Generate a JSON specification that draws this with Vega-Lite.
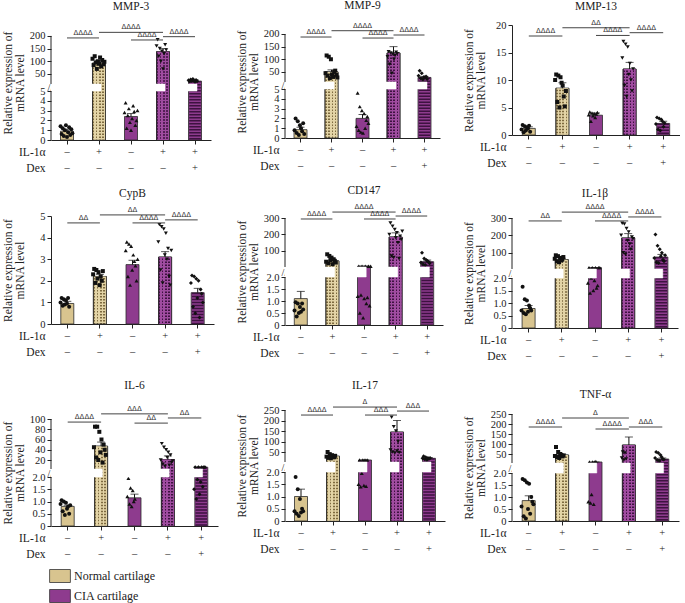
{
"$schema":"https://vega.github.io/schema/vega-lite/v6.json",
"background":"white",
"padding":{"left":2,"top":0,"right":0,"bottom":0},
"config":{
 "view":{"stroke":null},
 "font":"Liberation Serif",
 "style":{"guide-label":{"font":"Liberation Serif"},"guide-title":{"font":"Liberation Serif"},"group-title":{"font":"Liberation Serif"}},
 "axis":{"labelFont":"Liberation Serif","titleFont":"Liberation Serif","labelFontSize":10.5,"titleFontSize":11.5,"titleFontWeight":"normal","labelColor":"#222","titleColor":"#222","domainColor":"#222","tickColor":"#222","grid":false,"labelOverlap":false,"labelBound":false,"labelFlush":false},
 "title":{"font":"Liberation Serif","fontSize":11.5,"fontWeight":"normal","color":"#222","frame":"group","anchor":"middle"},
 "legend":{"labelFont":"Liberation Serif","labelFontSize":12,"labelColor":"#222"}
},
"spacing":18,
"resolve":{"scale":{"x":"independent","y":"independent","color":"independent"},"legend":{"color":"independent"}},
"hconcat":[
{"spacing":14,"resolve":{"scale":{"x":"independent","y":"independent","color":"independent"},"legend":{"color":"independent"}},"vconcat":[
{"width":160,"height":115,"title":{"text":"MMP-3","offset":11},
 "data":{"values":[
  {"g":"1","v":0.9,"e":1.1,"p":[1.4,0.6,1.2,0.4,1.0,1.5,0.3,0.8,1.3,0.5,1.1,0.7]},
  {"g":"2","v":93,"e":104,"p":[110,85,120,95,70,100,90,115,80,105,88,98]},
  {"g":"3","v":2.4,"e":2.7,"p":[2.8,3.8,1.2,2.5,3.2,1.8,1.0,2.2,3.5,2.9,1.5,2.0,3.0]},
  {"g":"4","v":138,"e":150,"p":[160,185,120,150,100,140,70,130,165,145]},
  {"g":"5","v":22,"e":26,"p":[25,20,28,22,30,24,18,26,21]}]},
 "encoding":{
  "x":{"field":"g","type":"nominal","scale":{"domain":["1","2","3","4","5"],"paddingInner":0,"paddingOuter":0},
   "axis":{"title":["IL-1α","Dex"],"titleAlign":"right","titleBaseline":"top","titleX":-6,"titleY":6,"titleLineHeight":16,"labelExpr":"datum.value=='5' ? ['+','+'] : (datum.value=='2' || datum.value=='4') ? ['+','–'] : ['–','–']","labelLineHeight":16,"labelPadding":2,"labelBaseline":"top","labelAngle":0,"tickSize":4}},
  "y":{"field":"v","type":"quantitative","scale":{"domain":[0,5,10.5,243],"range":[115,66,59,0],"nice":false,"zero":false},
   "axis":{"domain":false,"title":["Relative expression of","mRNA level"],"values":[0,1,2,3,4,5,7.75,50,100,150,200],"labelExpr":"datum.value==7.75 ? '//' : ''+datum.value","labelAlign":{"condition":{"test":"datum.value==7.75","value":"center"},"value":"right"},"labelPadding":{"condition":{"test":"datum.value==7.75","value":-3},"value":2},"tickOpacity":{"condition":{"test":"datum.value==7.75","value":0},"value":1},"tickSize":4,"minExtent":24,"maxExtent":24,"titlePadding":2,"titleLineHeight":12}}},
 "layer":[
  {"mark":{"type":"bar","width":13,"stroke":"#2b2b2b","strokeWidth":0.8},"encoding":{"fill":{"field":"g","type":"nominal","scale":{"domain":["1","2","3","4","5"],"range":["#d8c48f","#d8c48f","#8e3b8e","#8e3b8e","#8e3b8e"]},"legend":null}}},
  {"transform":[{"filter":"datum.g=='2'"}],"mark":{"type":"bar","width":13,"stroke":"#2b2b2b","strokeWidth":0.8,"fill":{"gradient":"linear","x1":0,"y1":0,"x2":1,"y2":0,"stops":[{"offset":0,"color":"#7d6a3f"},{"offset":0.125,"color":"#7d6a3f"},{"offset":0.125,"color":"#e3d4a6"},{"offset":0.25,"color":"#e3d4a6"},{"offset":0.25,"color":"#7d6a3f"},{"offset":0.375,"color":"#7d6a3f"},{"offset":0.375,"color":"#e3d4a6"},{"offset":0.5,"color":"#e3d4a6"},{"offset":0.5,"color":"#7d6a3f"},{"offset":0.625,"color":"#7d6a3f"},{"offset":0.625,"color":"#e3d4a6"},{"offset":0.75,"color":"#e3d4a6"},{"offset":0.75,"color":"#7d6a3f"},{"offset":0.875,"color":"#7d6a3f"},{"offset":0.875,"color":"#e3d4a6"},{"offset":1,"color":"#e3d4a6"}]}}},
  {"transform":[{"filter":"datum.g=='4'"}],"mark":{"type":"bar","width":13,"stroke":"#2b2b2b","strokeWidth":0.8,"fill":{"gradient":"linear","x1":0,"y1":0,"x2":1,"y2":0,"stops":[{"offset":0,"color":"#3d1240"},{"offset":0.125,"color":"#3d1240"},{"offset":0.125,"color":"#a04ca0"},{"offset":0.25,"color":"#a04ca0"},{"offset":0.25,"color":"#3d1240"},{"offset":0.375,"color":"#3d1240"},{"offset":0.375,"color":"#a04ca0"},{"offset":0.5,"color":"#a04ca0"},{"offset":0.5,"color":"#3d1240"},{"offset":0.625,"color":"#3d1240"},{"offset":0.625,"color":"#a04ca0"},{"offset":0.75,"color":"#a04ca0"},{"offset":0.75,"color":"#3d1240"},{"offset":0.875,"color":"#3d1240"},{"offset":0.875,"color":"#a04ca0"},{"offset":1,"color":"#a04ca0"}]}}},
  {"transform":[{"filter":"datum.g=='2' || datum.g=='4' || datum.g=='5'"}],"mark":{"type":"rule","strokeWidth":11.5,"strokeDash":[1.5,1.5],"strokeCap":"butt"},"encoding":{"y2":{"datum":0},"stroke":{"field":"g","type":"nominal","scale":{"domain":["2","4","5"],"range":["#e3d4a6","#a04ca0","#3d1240"]},"legend":null}}},
  {"mark":{"type":"rule","color":"#111","strokeWidth":1},"encoding":{"y2":{"field":"e"}}},
  {"mark":{"type":"tick","color":"#111","thickness":1,"size":8},"encoding":{"y":{"field":"e","type":"quantitative"}}},
  {"transform":[{"flatten":["p"],"as":["v"]},{"window":[{"op":"row_number","as":"k"}],"groupby":["g"]}],"mark":{"type":"point","filled":true,"size":16,"color":"#111","opacity":1},"encoding":{"shape":{"field":"g","type":"nominal","scale":{"domain":["1","2","3","4","5"],"range":["circle","square","triangle-up","triangle-down","diamond"]},"legend":null},"xOffset":{"field":"k","type":"nominal","scale":{"range":[9,23]}}}},
  {"data":{"values":[{"g":"1","v":5,"e":10.5},{"g":"2","v":5,"e":10.5},{"g":"3","v":5,"e":10.5},{"g":"4","v":5,"e":10.5},{"g":"5","v":5,"e":10.5}]},"mark":{"type":"rect","fill":"white","stroke":"white","strokeWidth":0.5},"encoding":{"y2":{"field":"e"}}},
  {"data":{"values":[{"v":0,"e":5},{"v":10.5,"e":200}]},"mark":{"type":"rule","color":"#222","strokeWidth":1},"encoding":{"x":{"datum":"1","type":"nominal","bandPosition":0},"y2":{"field":"e"}}},
  {"data":{"values":[{"a":"1","b":"2","v":192,"t":"ΔΔΔΔ","s":1},{"a":"2","b":"4","v":214,"t":"ΔΔΔΔ","s":2},{"a":"3","b":"4","v":184,"t":"ΔΔΔΔ","s":1},{"a":"4","b":"5","v":197,"t":"ΔΔΔΔ","s":1}]},
   "layer":[
    {"mark":{"type":"rule","color":"#444","strokeWidth":1},"encoding":{"x":{"field":"a","type":"nominal"},"x2":{"field":"b"}}},
    {"transform":[{"filter":"datum.s==1"}],"mark":{"type":"text","fontSize":7,"dy":-3,"baseline":"alphabetic","color":"#333","font":"DejaVu Sans"},"encoding":{"x":{"field":"a","type":"nominal","bandPosition":1},"text":{"field":"t"}}},
    {"transform":[{"filter":"datum.s==2"}],"mark":{"type":"text","fontSize":7,"dy":-3,"baseline":"alphabetic","color":"#333","font":"DejaVu Sans"},"encoding":{"x":{"field":"a","type":"nominal","bandPosition":1.5},"text":{"field":"t"}}}]}
 ]},
{"width":163,"height":108,"title":{"text":"CypB","offset":6},
 "data":{"values":[
  {"g":"1","v":0.95,"e":1.05,"p":[1.0,1.2,0.85,1.15,0.9,1.1,0.95,1.2,0.8]},
  {"g":"2","v":2.2,"e":2.3,"p":[2.3,2.55,1.9,2.5,2.1,2.4,1.8,2.2,2.0,2.45]},
  {"g":"3","v":2.75,"e":2.95,"p":[3.4,3.8,2.2,3.7,1.8,3.6,2.5,3.2,2.9,2.7,2.0,3.0]},
  {"g":"4","v":3.1,"e":3.35,"p":[3.8,4.6,2.5,4.5,1.9,4.4,3.2,4.2,3.0,3.5,2.2,1.8,3.4]},
  {"g":"5","v":1.45,"e":1.65,"p":[1.9,2.25,0.8,2.2,0.5,2.1,1.2,2.0,0.3,1.6,1.4,1.0]}]},
 "encoding":{
  "x":{"field":"g","type":"nominal","scale":{"domain":["1","2","3","4","5"],"paddingInner":0,"paddingOuter":0},
   "axis":{"title":["IL-1α","Dex"],"titleAlign":"right","titleBaseline":"top","titleX":-6,"titleY":6,"titleLineHeight":16,"labelExpr":"datum.value=='5' ? ['+','+'] : (datum.value=='2' || datum.value=='4') ? ['+','–'] : ['–','–']","labelLineHeight":16,"labelPadding":2,"labelBaseline":"top","labelAngle":0,"tickSize":4}},
  "y":{"field":"v","type":"quantitative","scale":{"domain":[0,5],"range":[108,0],"nice":false,"zero":false},
   "axis":{"title":["Relative expression of","mRNA level"],"values":[0,1,2,3,4,5],"labelExpr":"''+datum.value","tickSize":4,"minExtent":24,"maxExtent":24,"titlePadding":2,"titleLineHeight":12}}},
 "layer":[
  {"mark":{"type":"bar","width":13,"stroke":"#2b2b2b","strokeWidth":0.8},"encoding":{"fill":{"field":"g","type":"nominal","scale":{"domain":["1","2","3","4","5"],"range":["#d8c48f","#d8c48f","#8e3b8e","#8e3b8e","#8e3b8e"]},"legend":null}}},
  {"transform":[{"filter":"datum.g=='2'"}],"mark":{"type":"bar","width":13,"stroke":"#2b2b2b","strokeWidth":0.8,"fill":{"gradient":"linear","x1":0,"y1":0,"x2":1,"y2":0,"stops":[{"offset":0,"color":"#7d6a3f"},{"offset":0.125,"color":"#7d6a3f"},{"offset":0.125,"color":"#e3d4a6"},{"offset":0.25,"color":"#e3d4a6"},{"offset":0.25,"color":"#7d6a3f"},{"offset":0.375,"color":"#7d6a3f"},{"offset":0.375,"color":"#e3d4a6"},{"offset":0.5,"color":"#e3d4a6"},{"offset":0.5,"color":"#7d6a3f"},{"offset":0.625,"color":"#7d6a3f"},{"offset":0.625,"color":"#e3d4a6"},{"offset":0.75,"color":"#e3d4a6"},{"offset":0.75,"color":"#7d6a3f"},{"offset":0.875,"color":"#7d6a3f"},{"offset":0.875,"color":"#e3d4a6"},{"offset":1,"color":"#e3d4a6"}]}}},
  {"transform":[{"filter":"datum.g=='4'"}],"mark":{"type":"bar","width":13,"stroke":"#2b2b2b","strokeWidth":0.8,"fill":{"gradient":"linear","x1":0,"y1":0,"x2":1,"y2":0,"stops":[{"offset":0,"color":"#3d1240"},{"offset":0.125,"color":"#3d1240"},{"offset":0.125,"color":"#a04ca0"},{"offset":0.25,"color":"#a04ca0"},{"offset":0.25,"color":"#3d1240"},{"offset":0.375,"color":"#3d1240"},{"offset":0.375,"color":"#a04ca0"},{"offset":0.5,"color":"#a04ca0"},{"offset":0.5,"color":"#3d1240"},{"offset":0.625,"color":"#3d1240"},{"offset":0.625,"color":"#a04ca0"},{"offset":0.75,"color":"#a04ca0"},{"offset":0.75,"color":"#3d1240"},{"offset":0.875,"color":"#3d1240"},{"offset":0.875,"color":"#a04ca0"},{"offset":1,"color":"#a04ca0"}]}}},
  {"transform":[{"filter":"datum.g=='2' || datum.g=='4' || datum.g=='5'"}],"mark":{"type":"rule","strokeWidth":11.5,"strokeDash":[1.5,1.5],"strokeCap":"butt"},"encoding":{"y2":{"datum":0},"stroke":{"field":"g","type":"nominal","scale":{"domain":["2","4","5"],"range":["#e3d4a6","#a04ca0","#3d1240"]},"legend":null}}},
  {"mark":{"type":"rule","color":"#111","strokeWidth":1},"encoding":{"y2":{"field":"e"}}},
  {"mark":{"type":"tick","color":"#111","thickness":1,"size":8},"encoding":{"y":{"field":"e","type":"quantitative"}}},
  {"transform":[{"flatten":["p"],"as":["v"]},{"window":[{"op":"row_number","as":"k"}],"groupby":["g"]}],"mark":{"type":"point","filled":true,"size":16,"color":"#111","opacity":1},"encoding":{"shape":{"field":"g","type":"nominal","scale":{"domain":["1","2","3","4","5"],"range":["circle","square","triangle-up","triangle-down","diamond"]},"legend":null},"xOffset":{"field":"k","type":"nominal","scale":{"range":[9,23]}}}},
  {"data":{"values":[{"g":"1","v":0}]},"mark":{"type":"text","text":".","dy":37,"opacity":0,"fontSize":10}},
  {"data":{"values":[{"a":"1","b":"2","v":4.68,"t":"ΔΔ","s":1},{"a":"2","b":"4","v":5.05,"t":"ΔΔ","s":2},{"a":"3","b":"4","v":4.68,"t":"ΔΔΔΔ","s":1},{"a":"4","b":"5","v":4.82,"t":"ΔΔΔΔ","s":1}]},
   "layer":[
    {"mark":{"type":"rule","color":"#444","strokeWidth":1},"encoding":{"x":{"field":"a","type":"nominal"},"x2":{"field":"b"}}},
    {"transform":[{"filter":"datum.s==1"}],"mark":{"type":"text","fontSize":7,"dy":-3,"baseline":"alphabetic","color":"#333","font":"DejaVu Sans"},"encoding":{"x":{"field":"a","type":"nominal","bandPosition":1},"text":{"field":"t"}}},
    {"transform":[{"filter":"datum.s==2"}],"mark":{"type":"text","fontSize":7,"dy":-3,"baseline":"alphabetic","color":"#333","font":"DejaVu Sans"},"encoding":{"x":{"field":"a","type":"nominal","bandPosition":1.5},"text":{"field":"t"}}}]}
 ]},
{"width":167,"height":107,"title":{"text":"IL-6","offset":13},
 "data":{"values":[
  {"g":"1","v":0.8,"e":0.85,"p":[0.9,1.05,0.6,1.0,0.45,0.95,0.7,0.8,0.5,0.85]},
  {"g":"2","v":47,"e":55,"p":[45,85,25,85,20,75,35,60,15,50,40,30]},
  {"g":"3","v":1.15,"e":1.3,"p":[1.2,1.95,0.9,1.55,0.8,1.45,1.0,1.1]},
  {"g":"4","v":21,"e":28,"p":[20,52,12,45,8,40,25,35,10,30,15,18]},
  {"g":"5","v":6,"e":6,"p":[1.5,6,1.1,1.9,6,1.3,1.8,6,1.6,6,6]}]},
 "encoding":{
  "x":{"field":"g","type":"nominal","scale":{"domain":["1","2","3","4","5"],"paddingInner":0,"paddingOuter":0},
   "axis":{"title":["IL-1α","Dex"],"titleAlign":"right","titleBaseline":"top","titleX":-6,"titleY":6,"titleLineHeight":16,"labelExpr":"datum.value=='5' ? ['+','+'] : (datum.value=='2' || datum.value=='4') ? ['+','–'] : ['–','–']","labelLineHeight":16,"labelPadding":2,"labelBaseline":"top","labelAngle":0,"tickSize":4}},
  "y":{"field":"v","type":"quantitative","scale":{"domain":[0,2,2.5,100],"range":[107,58,50,0],"nice":false,"zero":false},
   "axis":{"domain":false,"title":["Relative expression of","mRNA level"],"values":[0,0.5,1,1.5,2,2.25,20,40,60,80,100],"labelExpr":"datum.value==2.25 ? '//' : datum.value==0 ? '0' : datum.value<=2 ? format(datum.value,'.1f') : ''+datum.value","labelAlign":{"condition":{"test":"datum.value==2.25","value":"center"},"value":"right"},"labelPadding":{"condition":{"test":"datum.value==2.25","value":-3},"value":2},"tickOpacity":{"condition":{"test":"datum.value==2.25","value":0},"value":1},"tickSize":4,"minExtent":24,"maxExtent":24,"titlePadding":2,"titleLineHeight":12}}},
 "layer":[
  {"mark":{"type":"bar","width":13,"stroke":"#2b2b2b","strokeWidth":0.8},"encoding":{"fill":{"field":"g","type":"nominal","scale":{"domain":["1","2","3","4","5"],"range":["#d8c48f","#d8c48f","#8e3b8e","#8e3b8e","#8e3b8e"]},"legend":null}}},
  {"transform":[{"filter":"datum.g=='2'"}],"mark":{"type":"bar","width":13,"stroke":"#2b2b2b","strokeWidth":0.8,"fill":{"gradient":"linear","x1":0,"y1":0,"x2":1,"y2":0,"stops":[{"offset":0,"color":"#7d6a3f"},{"offset":0.125,"color":"#7d6a3f"},{"offset":0.125,"color":"#e3d4a6"},{"offset":0.25,"color":"#e3d4a6"},{"offset":0.25,"color":"#7d6a3f"},{"offset":0.375,"color":"#7d6a3f"},{"offset":0.375,"color":"#e3d4a6"},{"offset":0.5,"color":"#e3d4a6"},{"offset":0.5,"color":"#7d6a3f"},{"offset":0.625,"color":"#7d6a3f"},{"offset":0.625,"color":"#e3d4a6"},{"offset":0.75,"color":"#e3d4a6"},{"offset":0.75,"color":"#7d6a3f"},{"offset":0.875,"color":"#7d6a3f"},{"offset":0.875,"color":"#e3d4a6"},{"offset":1,"color":"#e3d4a6"}]}}},
  {"transform":[{"filter":"datum.g=='4'"}],"mark":{"type":"bar","width":13,"stroke":"#2b2b2b","strokeWidth":0.8,"fill":{"gradient":"linear","x1":0,"y1":0,"x2":1,"y2":0,"stops":[{"offset":0,"color":"#3d1240"},{"offset":0.125,"color":"#3d1240"},{"offset":0.125,"color":"#a04ca0"},{"offset":0.25,"color":"#a04ca0"},{"offset":0.25,"color":"#3d1240"},{"offset":0.375,"color":"#3d1240"},{"offset":0.375,"color":"#a04ca0"},{"offset":0.5,"color":"#a04ca0"},{"offset":0.5,"color":"#3d1240"},{"offset":0.625,"color":"#3d1240"},{"offset":0.625,"color":"#a04ca0"},{"offset":0.75,"color":"#a04ca0"},{"offset":0.75,"color":"#3d1240"},{"offset":0.875,"color":"#3d1240"},{"offset":0.875,"color":"#a04ca0"},{"offset":1,"color":"#a04ca0"}]}}},
  {"transform":[{"filter":"datum.g=='2' || datum.g=='4' || datum.g=='5'"}],"mark":{"type":"rule","strokeWidth":11.5,"strokeDash":[1.5,1.5],"strokeCap":"butt"},"encoding":{"y2":{"datum":0},"stroke":{"field":"g","type":"nominal","scale":{"domain":["2","4","5"],"range":["#e3d4a6","#a04ca0","#3d1240"]},"legend":null}}},
  {"mark":{"type":"rule","color":"#111","strokeWidth":1},"encoding":{"y2":{"field":"e"}}},
  {"mark":{"type":"tick","color":"#111","thickness":1,"size":8},"encoding":{"y":{"field":"e","type":"quantitative"}}},
  {"transform":[{"flatten":["p"],"as":["v"]},{"window":[{"op":"row_number","as":"k"}],"groupby":["g"]}],"mark":{"type":"point","filled":true,"size":16,"color":"#111","opacity":1},"encoding":{"shape":{"field":"g","type":"nominal","scale":{"domain":["1","2","3","4","5"],"range":["circle","square","triangle-up","triangle-down","diamond"]},"legend":null},"xOffset":{"field":"k","type":"nominal","scale":{"range":[9,23]}}}},
  {"data":{"values":[{"g":"1","v":2,"e":2.5},{"g":"2","v":2,"e":2.5},{"g":"3","v":2,"e":2.5},{"g":"4","v":2,"e":2.5},{"g":"5","v":2,"e":2.5}]},"mark":{"type":"rect","fill":"white","stroke":"white","strokeWidth":0.5},"encoding":{"y2":{"field":"e"}}},
  {"data":{"values":[{"v":0,"e":2},{"v":2.5,"e":100}]},"mark":{"type":"rule","color":"#222","strokeWidth":1},"encoding":{"x":{"datum":"1","type":"nominal","bandPosition":0},"y2":{"field":"e"}}},
  {"data":{"values":[{"a":"1","b":"2","v":94,"t":"ΔΔΔΔ","s":1},{"a":"2","b":"4","v":110,"t":"ΔΔΔ","s":2},{"a":"3","b":"4","v":92,"t":"ΔΔ","s":1},{"a":"4","b":"5","v":102,"t":"ΔΔ","s":1}]},
   "layer":[
    {"mark":{"type":"rule","color":"#444","strokeWidth":1},"encoding":{"x":{"field":"a","type":"nominal"},"x2":{"field":"b"}}},
    {"transform":[{"filter":"datum.s==1"}],"mark":{"type":"text","fontSize":7,"dy":-3,"baseline":"alphabetic","color":"#333","font":"DejaVu Sans"},"encoding":{"x":{"field":"a","type":"nominal","bandPosition":1},"text":{"field":"t"}}},
    {"transform":[{"filter":"datum.s==2"}],"mark":{"type":"text","fontSize":7,"dy":-3,"baseline":"alphabetic","color":"#333","font":"DejaVu Sans"},"encoding":{"x":{"field":"a","type":"nominal","bandPosition":1.5},"text":{"field":"t"}}}]},
  {"data":{"values":[{"g":"1","v":0,"c":"Normal cartilage"},{"g":"1","v":0,"c":"CIA cartilage"}]},"mark":{"type":"point","filled":true,"opacity":0,"size":1},"encoding":{"color":{"field":"c","type":"nominal","scale":{"domain":["Normal cartilage","CIA cartilage"],"range":["#d8c48f","#8e3b8e"]},"legend":{"orient":"none","legendX":2,"legendY":150,"title":null,"symbolType":"M-1.6,-1H1.6V1H-1.6Z","symbolSize":169,"symbolOpacity":1,"symbolStrokeColor":"#333","symbolStrokeWidth":0.8,"rowPadding":2,"labelOffset":7,"padding":0,"labelFontSize":12}}}}
 ]}
]},
{"spacing":12,"resolve":{"scale":{"x":"independent","y":"independent"}},"vconcat":[
{"width":155,"height":113,"title":{"text":"MMP-9","offset":10},
 "data":{"values":[
  {"g":"1","v":0.85,"e":1.1,"p":[0.8,2.0,0.5,1.7,0.3,1.3,1.0,0.7,1.5,0.4]},
  {"g":"2","v":50,"e":58,"p":[45,115,35,110,25,100,40,30,50,55,38,28]},
  {"g":"3","v":2.0,"e":2.4,"p":[1.2,4.6,0.8,3.2,0.6,2.8,0.5,2.5,1.0,1.8,2.2,1.5]},
  {"g":"4","v":125,"e":150,"p":[110,130,80,125,45,120,100,115,128,122]},
  {"g":"5","v":28,"e":32,"p":[35,55,25,45,20,30,28,32,22]}]},
 "encoding":{
  "x":{"field":"g","type":"nominal","scale":{"domain":["1","2","3","4","5"],"paddingInner":0,"paddingOuter":0},
   "axis":{"title":["IL-1α","Dex"],"titleAlign":"right","titleBaseline":"top","titleX":-6,"titleY":6,"titleLineHeight":16,"labelExpr":"datum.value=='5' ? ['+','+'] : (datum.value=='2' || datum.value=='4') ? ['+','–'] : ['–','–']","labelLineHeight":16,"labelPadding":2,"labelBaseline":"top","labelAngle":0,"tickSize":4}},
  "y":{"field":"v","type":"quantitative","scale":{"domain":[0,5,10,235.6],"range":[113,64,57,0],"nice":false,"zero":false},
   "axis":{"domain":false,"title":["Relative expression of","mRNA level"],"values":[0,1,2,3,4,5,7.5,50,100,150,200],"labelExpr":"datum.value==7.5 ? '//' : ''+datum.value","labelAlign":{"condition":{"test":"datum.value==7.5","value":"center"},"value":"right"},"labelPadding":{"condition":{"test":"datum.value==7.5","value":-3},"value":2},"tickOpacity":{"condition":{"test":"datum.value==7.5","value":0},"value":1},"tickSize":4,"minExtent":24,"maxExtent":24,"titlePadding":2,"titleLineHeight":12}}},
 "layer":[
  {"mark":{"type":"bar","width":13,"stroke":"#2b2b2b","strokeWidth":0.8},"encoding":{"fill":{"field":"g","type":"nominal","scale":{"domain":["1","2","3","4","5"],"range":["#d8c48f","#d8c48f","#8e3b8e","#8e3b8e","#8e3b8e"]},"legend":null}}},
  {"transform":[{"filter":"datum.g=='2'"}],"mark":{"type":"bar","width":13,"stroke":"#2b2b2b","strokeWidth":0.8,"fill":{"gradient":"linear","x1":0,"y1":0,"x2":1,"y2":0,"stops":[{"offset":0,"color":"#7d6a3f"},{"offset":0.125,"color":"#7d6a3f"},{"offset":0.125,"color":"#e3d4a6"},{"offset":0.25,"color":"#e3d4a6"},{"offset":0.25,"color":"#7d6a3f"},{"offset":0.375,"color":"#7d6a3f"},{"offset":0.375,"color":"#e3d4a6"},{"offset":0.5,"color":"#e3d4a6"},{"offset":0.5,"color":"#7d6a3f"},{"offset":0.625,"color":"#7d6a3f"},{"offset":0.625,"color":"#e3d4a6"},{"offset":0.75,"color":"#e3d4a6"},{"offset":0.75,"color":"#7d6a3f"},{"offset":0.875,"color":"#7d6a3f"},{"offset":0.875,"color":"#e3d4a6"},{"offset":1,"color":"#e3d4a6"}]}}},
  {"transform":[{"filter":"datum.g=='4'"}],"mark":{"type":"bar","width":13,"stroke":"#2b2b2b","strokeWidth":0.8,"fill":{"gradient":"linear","x1":0,"y1":0,"x2":1,"y2":0,"stops":[{"offset":0,"color":"#3d1240"},{"offset":0.125,"color":"#3d1240"},{"offset":0.125,"color":"#a04ca0"},{"offset":0.25,"color":"#a04ca0"},{"offset":0.25,"color":"#3d1240"},{"offset":0.375,"color":"#3d1240"},{"offset":0.375,"color":"#a04ca0"},{"offset":0.5,"color":"#a04ca0"},{"offset":0.5,"color":"#3d1240"},{"offset":0.625,"color":"#3d1240"},{"offset":0.625,"color":"#a04ca0"},{"offset":0.75,"color":"#a04ca0"},{"offset":0.75,"color":"#3d1240"},{"offset":0.875,"color":"#3d1240"},{"offset":0.875,"color":"#a04ca0"},{"offset":1,"color":"#a04ca0"}]}}},
  {"transform":[{"filter":"datum.g=='2' || datum.g=='4' || datum.g=='5'"}],"mark":{"type":"rule","strokeWidth":11.5,"strokeDash":[1.5,1.5],"strokeCap":"butt"},"encoding":{"y2":{"datum":0},"stroke":{"field":"g","type":"nominal","scale":{"domain":["2","4","5"],"range":["#e3d4a6","#a04ca0","#3d1240"]},"legend":null}}},
  {"mark":{"type":"rule","color":"#111","strokeWidth":1},"encoding":{"y2":{"field":"e"}}},
  {"mark":{"type":"tick","color":"#111","thickness":1,"size":8},"encoding":{"y":{"field":"e","type":"quantitative"}}},
  {"transform":[{"flatten":["p"],"as":["v"]},{"window":[{"op":"row_number","as":"k"}],"groupby":["g"]}],"mark":{"type":"point","filled":true,"size":16,"color":"#111","opacity":1},"encoding":{"shape":{"field":"g","type":"nominal","scale":{"domain":["1","2","3","4","5"],"range":["circle","square","triangle-up","triangle-down","diamond"]},"legend":null},"xOffset":{"field":"k","type":"nominal","scale":{"range":[9,23]}}}},
  {"data":{"values":[{"g":"1","v":5,"e":10},{"g":"2","v":5,"e":10},{"g":"3","v":5,"e":10},{"g":"4","v":5,"e":10},{"g":"5","v":5,"e":10}]},"mark":{"type":"rect","fill":"white","stroke":"white","strokeWidth":0.5},"encoding":{"y2":{"field":"e"}}},
  {"data":{"values":[{"v":0,"e":5},{"v":10,"e":200}]},"mark":{"type":"rule","color":"#222","strokeWidth":1},"encoding":{"x":{"datum":"1","type":"nominal","bandPosition":0},"y2":{"field":"e"}}},
  {"data":{"values":[{"a":"1","b":"2","v":188,"t":"ΔΔΔΔ","s":1},{"a":"2","b":"4","v":213,"t":"ΔΔΔΔ","s":2},{"a":"3","b":"4","v":184,"t":"ΔΔΔΔ","s":1},{"a":"4","b":"5","v":196,"t":"ΔΔΔΔ","s":1}]},
   "layer":[
    {"mark":{"type":"rule","color":"#444","strokeWidth":1},"encoding":{"x":{"field":"a","type":"nominal"},"x2":{"field":"b"}}},
    {"transform":[{"filter":"datum.s==1"}],"mark":{"type":"text","fontSize":7,"dy":-3,"baseline":"alphabetic","color":"#333","font":"DejaVu Sans"},"encoding":{"x":{"field":"a","type":"nominal","bandPosition":1},"text":{"field":"t"}}},
    {"transform":[{"filter":"datum.s==2"}],"mark":{"type":"text","fontSize":7,"dy":-3,"baseline":"alphabetic","color":"#333","font":"DejaVu Sans"},"encoding":{"x":{"field":"a","type":"nominal","bandPosition":1.5},"text":{"field":"t"}}}]}
 ]},
{"width":158,"height":107,"title":{"text":"CD147","offset":7},
 "data":{"values":[
  {"g":"1","v":1.1,"e":1.4,"p":[0.6,0.95,0.35,0.9,0.5,0.75,0.55,0.9,0.65]},
  {"g":"2","v":40,"e":50,"p":[35,80,25,70,45,60,20,50,40,30]},
  {"g":"3","v":8,"e":8,"p":[1.2,8,0.5,1.25,8,0.3,1.1,8,0.9,1.15,8,0.8,8]},
  {"g":"4","v":185,"e":210,"p":[200,270,70,250,60,230,180,210,150,55,190,170,220]},
  {"g":"5","v":35,"e":45,"p":[30,90,20,55,15,45,40,35,25]}]},
 "encoding":{
  "x":{"field":"g","type":"nominal","scale":{"domain":["1","2","3","4","5"],"paddingInner":0,"paddingOuter":0},
   "axis":{"title":["IL-1α","Dex"],"titleAlign":"right","titleBaseline":"top","titleX":-6,"titleY":6,"titleLineHeight":16,"labelExpr":"datum.value=='5' ? ['+','+'] : (datum.value=='2' || datum.value=='4') ? ['+','–'] : ['–','–']","labelLineHeight":16,"labelPadding":2,"labelBaseline":"top","labelAngle":0,"tickSize":4}},
  "y":{"field":"v","type":"quantitative","scale":{"domain":[0,2,3,300],"range":[107,59,49,0],"nice":false,"zero":false},
   "axis":{"domain":false,"title":["Relative expression of","mRNA level"],"values":[0,0.5,1,1.5,2,2.5,100,200,300],"labelExpr":"datum.value==2.5 ? '//' : datum.value==0 ? '0' : datum.value<=2 ? format(datum.value,'.1f') : ''+datum.value","labelAlign":{"condition":{"test":"datum.value==2.5","value":"center"},"value":"right"},"labelPadding":{"condition":{"test":"datum.value==2.5","value":-3},"value":2},"tickOpacity":{"condition":{"test":"datum.value==2.5","value":0},"value":1},"tickSize":4,"minExtent":24,"maxExtent":24,"titlePadding":2,"titleLineHeight":12}}},
 "layer":[
  {"mark":{"type":"bar","width":13,"stroke":"#2b2b2b","strokeWidth":0.8},"encoding":{"fill":{"field":"g","type":"nominal","scale":{"domain":["1","2","3","4","5"],"range":["#d8c48f","#d8c48f","#8e3b8e","#8e3b8e","#8e3b8e"]},"legend":null}}},
  {"transform":[{"filter":"datum.g=='2'"}],"mark":{"type":"bar","width":13,"stroke":"#2b2b2b","strokeWidth":0.8,"fill":{"gradient":"linear","x1":0,"y1":0,"x2":1,"y2":0,"stops":[{"offset":0,"color":"#7d6a3f"},{"offset":0.125,"color":"#7d6a3f"},{"offset":0.125,"color":"#e3d4a6"},{"offset":0.25,"color":"#e3d4a6"},{"offset":0.25,"color":"#7d6a3f"},{"offset":0.375,"color":"#7d6a3f"},{"offset":0.375,"color":"#e3d4a6"},{"offset":0.5,"color":"#e3d4a6"},{"offset":0.5,"color":"#7d6a3f"},{"offset":0.625,"color":"#7d6a3f"},{"offset":0.625,"color":"#e3d4a6"},{"offset":0.75,"color":"#e3d4a6"},{"offset":0.75,"color":"#7d6a3f"},{"offset":0.875,"color":"#7d6a3f"},{"offset":0.875,"color":"#e3d4a6"},{"offset":1,"color":"#e3d4a6"}]}}},
  {"transform":[{"filter":"datum.g=='4'"}],"mark":{"type":"bar","width":13,"stroke":"#2b2b2b","strokeWidth":0.8,"fill":{"gradient":"linear","x1":0,"y1":0,"x2":1,"y2":0,"stops":[{"offset":0,"color":"#3d1240"},{"offset":0.125,"color":"#3d1240"},{"offset":0.125,"color":"#a04ca0"},{"offset":0.25,"color":"#a04ca0"},{"offset":0.25,"color":"#3d1240"},{"offset":0.375,"color":"#3d1240"},{"offset":0.375,"color":"#a04ca0"},{"offset":0.5,"color":"#a04ca0"},{"offset":0.5,"color":"#3d1240"},{"offset":0.625,"color":"#3d1240"},{"offset":0.625,"color":"#a04ca0"},{"offset":0.75,"color":"#a04ca0"},{"offset":0.75,"color":"#3d1240"},{"offset":0.875,"color":"#3d1240"},{"offset":0.875,"color":"#a04ca0"},{"offset":1,"color":"#a04ca0"}]}}},
  {"transform":[{"filter":"datum.g=='2' || datum.g=='4' || datum.g=='5'"}],"mark":{"type":"rule","strokeWidth":11.5,"strokeDash":[1.5,1.5],"strokeCap":"butt"},"encoding":{"y2":{"datum":0},"stroke":{"field":"g","type":"nominal","scale":{"domain":["2","4","5"],"range":["#e3d4a6","#a04ca0","#3d1240"]},"legend":null}}},
  {"mark":{"type":"rule","color":"#111","strokeWidth":1},"encoding":{"y2":{"field":"e"}}},
  {"mark":{"type":"tick","color":"#111","thickness":1,"size":8},"encoding":{"y":{"field":"e","type":"quantitative"}}},
  {"transform":[{"flatten":["p"],"as":["v"]},{"window":[{"op":"row_number","as":"k"}],"groupby":["g"]}],"mark":{"type":"point","filled":true,"size":16,"color":"#111","opacity":1},"encoding":{"shape":{"field":"g","type":"nominal","scale":{"domain":["1","2","3","4","5"],"range":["circle","square","triangle-up","triangle-down","diamond"]},"legend":null},"xOffset":{"field":"k","type":"nominal","scale":{"range":[9,23]}}}},
  {"data":{"values":[{"g":"1","v":2,"e":3},{"g":"2","v":2,"e":3},{"g":"3","v":2,"e":3},{"g":"4","v":2,"e":3},{"g":"5","v":2,"e":3}]},"mark":{"type":"rect","fill":"white","stroke":"white","strokeWidth":0.5},"encoding":{"y2":{"field":"e"}}},
  {"data":{"values":[{"v":0,"e":2},{"v":3,"e":300}]},"mark":{"type":"rule","color":"#222","strokeWidth":1},"encoding":{"x":{"datum":"1","type":"nominal","bandPosition":0},"y2":{"field":"e"}}},
  {"data":{"values":[{"g":"1","v":0}]},"mark":{"type":"text","text":".","dy":37,"opacity":0,"fontSize":10}},
  {"data":{"values":[{"a":"1","b":"2","v":294,"t":"ΔΔΔΔ","s":1},{"a":"2","b":"4","v":336,"t":"ΔΔΔΔ","s":2},{"a":"3","b":"4","v":294,"t":"ΔΔΔΔ","s":1},{"a":"4","b":"5","v":312,"t":"ΔΔΔΔ","s":1}]},
   "layer":[
    {"mark":{"type":"rule","color":"#444","strokeWidth":1},"encoding":{"x":{"field":"a","type":"nominal"},"x2":{"field":"b"}}},
    {"transform":[{"filter":"datum.s==1"}],"mark":{"type":"text","fontSize":7,"dy":-3,"baseline":"alphabetic","color":"#333","font":"DejaVu Sans"},"encoding":{"x":{"field":"a","type":"nominal","bandPosition":1},"text":{"field":"t"}}},
    {"transform":[{"filter":"datum.s==2"}],"mark":{"type":"text","fontSize":7,"dy":-3,"baseline":"alphabetic","color":"#333","font":"DejaVu Sans"},"encoding":{"x":{"field":"a","type":"nominal","bandPosition":1.5},"text":{"field":"t"}}}]}
 ]},
{"width":160,"height":111,"title":{"text":"IL-17","offset":7},
 "data":{"values":[
  {"g":"1","v":1.0,"e":1.3,"p":[0.4,1.8,0.3,1.3,0.2,0.9,0.35,0.5,0.4]},
  {"g":"2","v":30,"e":35,"p":[28,50,22,40,20,35,30,25,32]},
  {"g":"3","v":12,"e":12,"p":[1.5,12,1.4,1.95,12,1.45,12,1.42,12]},
  {"g":"4","v":145,"e":200,"p":[60,215,50,170,45,150,55,100,48]},
  {"g":"5","v":20,"e":23,"p":[20,30,15,25,12,22,18,21]}]},
 "encoding":{
  "x":{"field":"g","type":"nominal","scale":{"domain":["1","2","3","4","5"],"paddingInner":0,"paddingOuter":0},
   "axis":{"title":["IL-1α","Dex"],"titleAlign":"right","titleBaseline":"top","titleX":-6,"titleY":6,"titleLineHeight":16,"labelExpr":"datum.value=='5' ? ['+','+'] : (datum.value=='2' || datum.value=='4') ? ['+','–'] : ['–','–']","labelLineHeight":16,"labelPadding":2,"labelBaseline":"top","labelAngle":0,"tickSize":4}},
  "y":{"field":"v","type":"quantitative","scale":{"domain":[0,2,2.5,250],"range":[111,62,52,0],"nice":false,"zero":false},
   "axis":{"domain":false,"title":["Relative expression of","mRNA level"],"values":[0,0.5,1,1.5,2,2.25,50,100,150,200,250],"labelExpr":"datum.value==2.25 ? '//' : datum.value==0 ? '0' : datum.value<=2 ? format(datum.value,'.1f') : ''+datum.value","labelAlign":{"condition":{"test":"datum.value==2.25","value":"center"},"value":"right"},"labelPadding":{"condition":{"test":"datum.value==2.25","value":-3},"value":2},"tickOpacity":{"condition":{"test":"datum.value==2.25","value":0},"value":1},"tickSize":4,"minExtent":24,"maxExtent":24,"titlePadding":2,"titleLineHeight":12}}},
 "layer":[
  {"mark":{"type":"bar","width":13,"stroke":"#2b2b2b","strokeWidth":0.8},"encoding":{"fill":{"field":"g","type":"nominal","scale":{"domain":["1","2","3","4","5"],"range":["#d8c48f","#d8c48f","#8e3b8e","#8e3b8e","#8e3b8e"]},"legend":null}}},
  {"transform":[{"filter":"datum.g=='2'"}],"mark":{"type":"bar","width":13,"stroke":"#2b2b2b","strokeWidth":0.8,"fill":{"gradient":"linear","x1":0,"y1":0,"x2":1,"y2":0,"stops":[{"offset":0,"color":"#7d6a3f"},{"offset":0.125,"color":"#7d6a3f"},{"offset":0.125,"color":"#e3d4a6"},{"offset":0.25,"color":"#e3d4a6"},{"offset":0.25,"color":"#7d6a3f"},{"offset":0.375,"color":"#7d6a3f"},{"offset":0.375,"color":"#e3d4a6"},{"offset":0.5,"color":"#e3d4a6"},{"offset":0.5,"color":"#7d6a3f"},{"offset":0.625,"color":"#7d6a3f"},{"offset":0.625,"color":"#e3d4a6"},{"offset":0.75,"color":"#e3d4a6"},{"offset":0.75,"color":"#7d6a3f"},{"offset":0.875,"color":"#7d6a3f"},{"offset":0.875,"color":"#e3d4a6"},{"offset":1,"color":"#e3d4a6"}]}}},
  {"transform":[{"filter":"datum.g=='4'"}],"mark":{"type":"bar","width":13,"stroke":"#2b2b2b","strokeWidth":0.8,"fill":{"gradient":"linear","x1":0,"y1":0,"x2":1,"y2":0,"stops":[{"offset":0,"color":"#3d1240"},{"offset":0.125,"color":"#3d1240"},{"offset":0.125,"color":"#a04ca0"},{"offset":0.25,"color":"#a04ca0"},{"offset":0.25,"color":"#3d1240"},{"offset":0.375,"color":"#3d1240"},{"offset":0.375,"color":"#a04ca0"},{"offset":0.5,"color":"#a04ca0"},{"offset":0.5,"color":"#3d1240"},{"offset":0.625,"color":"#3d1240"},{"offset":0.625,"color":"#a04ca0"},{"offset":0.75,"color":"#a04ca0"},{"offset":0.75,"color":"#3d1240"},{"offset":0.875,"color":"#3d1240"},{"offset":0.875,"color":"#a04ca0"},{"offset":1,"color":"#a04ca0"}]}}},
  {"transform":[{"filter":"datum.g=='2' || datum.g=='4' || datum.g=='5'"}],"mark":{"type":"rule","strokeWidth":11.5,"strokeDash":[1.5,1.5],"strokeCap":"butt"},"encoding":{"y2":{"datum":0},"stroke":{"field":"g","type":"nominal","scale":{"domain":["2","4","5"],"range":["#e3d4a6","#a04ca0","#3d1240"]},"legend":null}}},
  {"mark":{"type":"rule","color":"#111","strokeWidth":1},"encoding":{"y2":{"field":"e"}}},
  {"mark":{"type":"tick","color":"#111","thickness":1,"size":8},"encoding":{"y":{"field":"e","type":"quantitative"}}},
  {"transform":[{"flatten":["p"],"as":["v"]},{"window":[{"op":"row_number","as":"k"}],"groupby":["g"]}],"mark":{"type":"point","filled":true,"size":16,"color":"#111","opacity":1},"encoding":{"shape":{"field":"g","type":"nominal","scale":{"domain":["1","2","3","4","5"],"range":["circle","square","triangle-up","triangle-down","diamond"]},"legend":null},"xOffset":{"field":"k","type":"nominal","scale":{"range":[9,23]}}}},
  {"data":{"values":[{"g":"1","v":2,"e":2.5},{"g":"2","v":2,"e":2.5},{"g":"3","v":2,"e":2.5},{"g":"4","v":2,"e":2.5},{"g":"5","v":2,"e":2.5}]},"mark":{"type":"rect","fill":"white","stroke":"white","strokeWidth":0.5},"encoding":{"y2":{"field":"e"}}},
  {"data":{"values":[{"v":0,"e":2},{"v":2.5,"e":250}]},"mark":{"type":"rule","color":"#222","strokeWidth":1},"encoding":{"x":{"datum":"1","type":"nominal","bandPosition":0},"y2":{"field":"e"}}},
  {"data":{"values":[{"a":"1","b":"2","v":226,"t":"ΔΔΔΔ","s":1},{"a":"2","b":"4","v":264,"t":"Δ","s":2},{"a":"3","b":"4","v":226,"t":"ΔΔΔ","s":1},{"a":"4","b":"5","v":245,"t":"ΔΔΔ","s":1}]},
   "layer":[
    {"mark":{"type":"rule","color":"#444","strokeWidth":1},"encoding":{"x":{"field":"a","type":"nominal"},"x2":{"field":"b"}}},
    {"transform":[{"filter":"datum.s==1"}],"mark":{"type":"text","fontSize":7,"dy":-3,"baseline":"alphabetic","color":"#333","font":"DejaVu Sans"},"encoding":{"x":{"field":"a","type":"nominal","bandPosition":1},"text":{"field":"t"}}},
    {"transform":[{"filter":"datum.s==2"}],"mark":{"type":"text","fontSize":7,"dy":-3,"baseline":"alphabetic","color":"#333","font":"DejaVu Sans"},"encoding":{"x":{"field":"a","type":"nominal","bandPosition":1.5},"text":{"field":"t"}}}]}
 ]}
]},
{"spacing":18,"resolve":{"scale":{"x":"independent","y":"independent"}},"vconcat":[
{"width":168,"height":110,"title":{"text":"MMP-13","offset":6.5},
 "data":{"values":[
  {"g":"1","v":1.2,"e":1.5,"p":[1.0,1.8,0.5,1.6,0.8,1.4,1.2,1.7,0.6]},
  {"g":"2","v":8.5,"e":9.5,"p":[10,11,6,10.8,5,10.5,9.5,9,7,5.2,8]},
  {"g":"3","v":3.6,"e":4.0,"p":[3.7,4.2,2.5,4.0,3.5,3.9,3.2,3.8,4.1]},
  {"g":"4","v":12,"e":13.2,"p":[14,17,9,16.5,7,16,11,13,10,8,12]},
  {"g":"5","v":2.1,"e":2.5,"p":[2.0,3.2,1.0,3.0,0.8,2.8,2.5,1.5,2.2]}]},
 "encoding":{
  "x":{"field":"g","type":"nominal","scale":{"domain":["1","2","3","4","5"],"paddingInner":0,"paddingOuter":0},
   "axis":{"title":["IL-1α","Dex"],"titleAlign":"right","titleBaseline":"top","titleX":-6,"titleY":6,"titleLineHeight":16,"labelExpr":"datum.value=='5' ? ['+','+'] : (datum.value=='2' || datum.value=='4') ? ['+','–'] : ['–','–']","labelLineHeight":16,"labelPadding":2,"labelBaseline":"top","labelAngle":0,"tickSize":4}},
  "y":{"field":"v","type":"quantitative","scale":{"domain":[0,20],"range":[110,0],"nice":false,"zero":false},
   "axis":{"title":["Relative expression of","mRNA level"],"values":[0,5,10,15,20],"labelExpr":"''+datum.value","tickSize":4,"minExtent":24,"maxExtent":24,"titlePadding":2,"titleLineHeight":12}}},
 "layer":[
  {"mark":{"type":"bar","width":13,"stroke":"#2b2b2b","strokeWidth":0.8},"encoding":{"fill":{"field":"g","type":"nominal","scale":{"domain":["1","2","3","4","5"],"range":["#d8c48f","#d8c48f","#8e3b8e","#8e3b8e","#8e3b8e"]},"legend":null}}},
  {"transform":[{"filter":"datum.g=='2'"}],"mark":{"type":"bar","width":13,"stroke":"#2b2b2b","strokeWidth":0.8,"fill":{"gradient":"linear","x1":0,"y1":0,"x2":1,"y2":0,"stops":[{"offset":0,"color":"#7d6a3f"},{"offset":0.125,"color":"#7d6a3f"},{"offset":0.125,"color":"#e3d4a6"},{"offset":0.25,"color":"#e3d4a6"},{"offset":0.25,"color":"#7d6a3f"},{"offset":0.375,"color":"#7d6a3f"},{"offset":0.375,"color":"#e3d4a6"},{"offset":0.5,"color":"#e3d4a6"},{"offset":0.5,"color":"#7d6a3f"},{"offset":0.625,"color":"#7d6a3f"},{"offset":0.625,"color":"#e3d4a6"},{"offset":0.75,"color":"#e3d4a6"},{"offset":0.75,"color":"#7d6a3f"},{"offset":0.875,"color":"#7d6a3f"},{"offset":0.875,"color":"#e3d4a6"},{"offset":1,"color":"#e3d4a6"}]}}},
  {"transform":[{"filter":"datum.g=='4'"}],"mark":{"type":"bar","width":13,"stroke":"#2b2b2b","strokeWidth":0.8,"fill":{"gradient":"linear","x1":0,"y1":0,"x2":1,"y2":0,"stops":[{"offset":0,"color":"#3d1240"},{"offset":0.125,"color":"#3d1240"},{"offset":0.125,"color":"#a04ca0"},{"offset":0.25,"color":"#a04ca0"},{"offset":0.25,"color":"#3d1240"},{"offset":0.375,"color":"#3d1240"},{"offset":0.375,"color":"#a04ca0"},{"offset":0.5,"color":"#a04ca0"},{"offset":0.5,"color":"#3d1240"},{"offset":0.625,"color":"#3d1240"},{"offset":0.625,"color":"#a04ca0"},{"offset":0.75,"color":"#a04ca0"},{"offset":0.75,"color":"#3d1240"},{"offset":0.875,"color":"#3d1240"},{"offset":0.875,"color":"#a04ca0"},{"offset":1,"color":"#a04ca0"}]}}},
  {"transform":[{"filter":"datum.g=='2' || datum.g=='4' || datum.g=='5'"}],"mark":{"type":"rule","strokeWidth":11.5,"strokeDash":[1.5,1.5],"strokeCap":"butt"},"encoding":{"y2":{"datum":0},"stroke":{"field":"g","type":"nominal","scale":{"domain":["2","4","5"],"range":["#e3d4a6","#a04ca0","#3d1240"]},"legend":null}}},
  {"mark":{"type":"rule","color":"#111","strokeWidth":1},"encoding":{"y2":{"field":"e"}}},
  {"mark":{"type":"tick","color":"#111","thickness":1,"size":8},"encoding":{"y":{"field":"e","type":"quantitative"}}},
  {"transform":[{"flatten":["p"],"as":["v"]},{"window":[{"op":"row_number","as":"k"}],"groupby":["g"]}],"mark":{"type":"point","filled":true,"size":16,"color":"#111","opacity":1},"encoding":{"shape":{"field":"g","type":"nominal","scale":{"domain":["1","2","3","4","5"],"range":["circle","square","triangle-up","triangle-down","diamond"]},"legend":null},"xOffset":{"field":"k","type":"nominal","scale":{"range":[9,23]}}}},
  {"data":{"values":[{"a":"1","b":"2","v":18,"t":"ΔΔΔΔ","s":1},{"a":"2","b":"4","v":19.5,"t":"ΔΔ","s":2},{"a":"3","b":"4","v":18.1,"t":"ΔΔΔΔ","s":1},{"a":"4","b":"5","v":18.6,"t":"ΔΔΔΔ","s":1}]},
   "layer":[
    {"mark":{"type":"rule","color":"#444","strokeWidth":1},"encoding":{"x":{"field":"a","type":"nominal"},"x2":{"field":"b"}}},
    {"transform":[{"filter":"datum.s==1"}],"mark":{"type":"text","fontSize":7,"dy":-3,"baseline":"alphabetic","color":"#333","font":"DejaVu Sans"},"encoding":{"x":{"field":"a","type":"nominal","bandPosition":1},"text":{"field":"t"}}},
    {"transform":[{"filter":"datum.s==2"}],"mark":{"type":"text","fontSize":7,"dy":-3,"baseline":"alphabetic","color":"#333","font":"DejaVu Sans"},"encoding":{"x":{"field":"a","type":"nominal","bandPosition":1.5},"text":{"field":"t"}}}]}
 ]},
{"width":166,"height":110,"title":{"text":"IL-1β","offset":4},
 "data":{"values":[
  {"g":"1","v":0.78,"e":0.9,"p":[0.7,1.65,0.6,1.15,0.55,1.1,0.65,0.9,0.8,0.7]},
  {"g":"2","v":60,"e":68,"p":[65,85,50,80,45,70,55,60,75]},
  {"g":"3","v":14,"e":14,"p":[1.8,14,1.4,2.0,14,1.5,1.9,14,1.6,1.7,14,14]},
  {"g":"4","v":185,"e":210,"p":[200,270,100,265,90,240,170,220,150,120,190,180]},
  {"g":"5","v":75,"e":90,"p":[70,205,45,140,40,120,80,100,60,50,85]}]},
 "encoding":{
  "x":{"field":"g","type":"nominal","scale":{"domain":["1","2","3","4","5"],"paddingInner":0,"paddingOuter":0},
   "axis":{"title":["IL-1α","Dex"],"titleAlign":"right","titleBaseline":"top","titleX":-6,"titleY":6,"titleLineHeight":16,"labelExpr":"datum.value=='5' ? ['+','+'] : (datum.value=='2' || datum.value=='4') ? ['+','–'] : ['–','–']","labelLineHeight":16,"labelPadding":2,"labelBaseline":"top","labelAngle":0,"tickSize":4}},
  "y":{"field":"v","type":"quantitative","scale":{"domain":[0,2,6,300],"range":[110,60,51,0],"nice":false,"zero":false},
   "axis":{"domain":false,"title":["Relative expression of","mRNA level"],"values":[0,0.5,1,1.5,2,4,100,200,300],"labelExpr":"datum.value==4 ? '//' : datum.value==0 ? '0' : datum.value<=2 ? format(datum.value,'.1f') : ''+datum.value","labelAlign":{"condition":{"test":"datum.value==4","value":"center"},"value":"right"},"labelPadding":{"condition":{"test":"datum.value==4","value":-3},"value":2},"tickOpacity":{"condition":{"test":"datum.value==4","value":0},"value":1},"tickSize":4,"minExtent":24,"maxExtent":24,"titlePadding":2,"titleLineHeight":12}}},
 "layer":[
  {"mark":{"type":"bar","width":13,"stroke":"#2b2b2b","strokeWidth":0.8},"encoding":{"fill":{"field":"g","type":"nominal","scale":{"domain":["1","2","3","4","5"],"range":["#d8c48f","#d8c48f","#8e3b8e","#8e3b8e","#8e3b8e"]},"legend":null}}},
  {"transform":[{"filter":"datum.g=='2'"}],"mark":{"type":"bar","width":13,"stroke":"#2b2b2b","strokeWidth":0.8,"fill":{"gradient":"linear","x1":0,"y1":0,"x2":1,"y2":0,"stops":[{"offset":0,"color":"#7d6a3f"},{"offset":0.125,"color":"#7d6a3f"},{"offset":0.125,"color":"#e3d4a6"},{"offset":0.25,"color":"#e3d4a6"},{"offset":0.25,"color":"#7d6a3f"},{"offset":0.375,"color":"#7d6a3f"},{"offset":0.375,"color":"#e3d4a6"},{"offset":0.5,"color":"#e3d4a6"},{"offset":0.5,"color":"#7d6a3f"},{"offset":0.625,"color":"#7d6a3f"},{"offset":0.625,"color":"#e3d4a6"},{"offset":0.75,"color":"#e3d4a6"},{"offset":0.75,"color":"#7d6a3f"},{"offset":0.875,"color":"#7d6a3f"},{"offset":0.875,"color":"#e3d4a6"},{"offset":1,"color":"#e3d4a6"}]}}},
  {"transform":[{"filter":"datum.g=='4'"}],"mark":{"type":"bar","width":13,"stroke":"#2b2b2b","strokeWidth":0.8,"fill":{"gradient":"linear","x1":0,"y1":0,"x2":1,"y2":0,"stops":[{"offset":0,"color":"#3d1240"},{"offset":0.125,"color":"#3d1240"},{"offset":0.125,"color":"#a04ca0"},{"offset":0.25,"color":"#a04ca0"},{"offset":0.25,"color":"#3d1240"},{"offset":0.375,"color":"#3d1240"},{"offset":0.375,"color":"#a04ca0"},{"offset":0.5,"color":"#a04ca0"},{"offset":0.5,"color":"#3d1240"},{"offset":0.625,"color":"#3d1240"},{"offset":0.625,"color":"#a04ca0"},{"offset":0.75,"color":"#a04ca0"},{"offset":0.75,"color":"#3d1240"},{"offset":0.875,"color":"#3d1240"},{"offset":0.875,"color":"#a04ca0"},{"offset":1,"color":"#a04ca0"}]}}},
  {"transform":[{"filter":"datum.g=='2' || datum.g=='4' || datum.g=='5'"}],"mark":{"type":"rule","strokeWidth":11.5,"strokeDash":[1.5,1.5],"strokeCap":"butt"},"encoding":{"y2":{"datum":0},"stroke":{"field":"g","type":"nominal","scale":{"domain":["2","4","5"],"range":["#e3d4a6","#a04ca0","#3d1240"]},"legend":null}}},
  {"mark":{"type":"rule","color":"#111","strokeWidth":1},"encoding":{"y2":{"field":"e"}}},
  {"mark":{"type":"tick","color":"#111","thickness":1,"size":8},"encoding":{"y":{"field":"e","type":"quantitative"}}},
  {"transform":[{"flatten":["p"],"as":["v"]},{"window":[{"op":"row_number","as":"k"}],"groupby":["g"]}],"mark":{"type":"point","filled":true,"size":16,"color":"#111","opacity":1},"encoding":{"shape":{"field":"g","type":"nominal","scale":{"domain":["1","2","3","4","5"],"range":["circle","square","triangle-up","triangle-down","diamond"]},"legend":null},"xOffset":{"field":"k","type":"nominal","scale":{"range":[9,23]}}}},
  {"data":{"values":[{"g":"1","v":2,"e":6},{"g":"2","v":2,"e":6},{"g":"3","v":2,"e":6},{"g":"4","v":2,"e":6},{"g":"5","v":2,"e":6}]},"mark":{"type":"rect","fill":"white","stroke":"white","strokeWidth":0.5},"encoding":{"y2":{"field":"e"}}},
  {"data":{"values":[{"v":0,"e":2},{"v":6,"e":300}]},"mark":{"type":"rule","color":"#222","strokeWidth":1},"encoding":{"x":{"datum":"1","type":"nominal","bandPosition":0},"y2":{"field":"e"}}},
  {"data":{"values":[{"g":"1","v":0}]},"mark":{"type":"text","text":".","dy":37,"opacity":0,"fontSize":10}},
  {"data":{"values":[{"a":"1","b":"2","v":283,"t":"ΔΔ","s":1},{"a":"2","b":"4","v":334,"t":"ΔΔΔΔ","s":2},{"a":"3","b":"4","v":283,"t":"ΔΔΔΔ","s":1},{"a":"4","b":"5","v":306,"t":"ΔΔΔΔ","s":1}]},
   "layer":[
    {"mark":{"type":"rule","color":"#444","strokeWidth":1},"encoding":{"x":{"field":"a","type":"nominal"},"x2":{"field":"b"}}},
    {"transform":[{"filter":"datum.s==1"}],"mark":{"type":"text","fontSize":7,"dy":-3,"baseline":"alphabetic","color":"#333","font":"DejaVu Sans"},"encoding":{"x":{"field":"a","type":"nominal","bandPosition":1},"text":{"field":"t"}}},
    {"transform":[{"filter":"datum.s==2"}],"mark":{"type":"text","fontSize":7,"dy":-3,"baseline":"alphabetic","color":"#333","font":"DejaVu Sans"},"encoding":{"x":{"field":"a","type":"nominal","bandPosition":1.5},"text":{"field":"t"}}}]}
 ]},
{"width":167,"height":107,"title":{"text":"TNF-α","offset":9},
 "data":{"values":[
  {"g":"1","v":0.85,"e":1.05,"p":[0.6,1.75,0.2,1.7,0.1,1.6,0.5,1.55,0.3,1.0,0.8,0.7]},
  {"g":"2","v":45,"e":50,"p":[40,85,35,60,30,50,45,38,42]},
  {"g":"3","v":10,"e":10,"p":[0.8,10,0.75,1.1,10,0.7,10,12]},
  {"g":"4","v":95,"e":135,"p":[30,60,20,55,25]},
  {"g":"5","v":25,"e":30,"p":[30,60,20,55,15,45,35,25,22]}]},
 "encoding":{
  "x":{"field":"g","type":"nominal","scale":{"domain":["1","2","3","4","5"],"paddingInner":0,"paddingOuter":0},
   "axis":{"title":["IL-1α","Dex"],"titleAlign":"right","titleBaseline":"top","titleX":-6,"titleY":6,"titleLineHeight":16,"labelExpr":"datum.value=='5' ? ['+','+'] : (datum.value=='2' || datum.value=='4') ? ['+','–'] : ['–','–']","labelLineHeight":16,"labelPadding":2,"labelBaseline":"top","labelAngle":0,"tickSize":4}},
  "y":{"field":"v","type":"quantitative","scale":{"domain":[0,2,5,250],"range":[107,59,49,0],"nice":false,"zero":false},
   "axis":{"domain":false,"title":["Relative expression of","mRNA level"],"values":[0,0.5,1,1.5,2,3.5,50,100,150,200,250],"labelExpr":"datum.value==3.5 ? '//' : datum.value==0 ? '0' : datum.value<=2 ? format(datum.value,'.1f') : ''+datum.value","labelAlign":{"condition":{"test":"datum.value==3.5","value":"center"},"value":"right"},"labelPadding":{"condition":{"test":"datum.value==3.5","value":-3},"value":2},"tickOpacity":{"condition":{"test":"datum.value==3.5","value":0},"value":1},"tickSize":4,"minExtent":24,"maxExtent":24,"titlePadding":2,"titleLineHeight":12}}},
 "layer":[
  {"mark":{"type":"bar","width":13,"stroke":"#2b2b2b","strokeWidth":0.8},"encoding":{"fill":{"field":"g","type":"nominal","scale":{"domain":["1","2","3","4","5"],"range":["#d8c48f","#d8c48f","#8e3b8e","#8e3b8e","#8e3b8e"]},"legend":null}}},
  {"transform":[{"filter":"datum.g=='2'"}],"mark":{"type":"bar","width":13,"stroke":"#2b2b2b","strokeWidth":0.8,"fill":{"gradient":"linear","x1":0,"y1":0,"x2":1,"y2":0,"stops":[{"offset":0,"color":"#7d6a3f"},{"offset":0.125,"color":"#7d6a3f"},{"offset":0.125,"color":"#e3d4a6"},{"offset":0.25,"color":"#e3d4a6"},{"offset":0.25,"color":"#7d6a3f"},{"offset":0.375,"color":"#7d6a3f"},{"offset":0.375,"color":"#e3d4a6"},{"offset":0.5,"color":"#e3d4a6"},{"offset":0.5,"color":"#7d6a3f"},{"offset":0.625,"color":"#7d6a3f"},{"offset":0.625,"color":"#e3d4a6"},{"offset":0.75,"color":"#e3d4a6"},{"offset":0.75,"color":"#7d6a3f"},{"offset":0.875,"color":"#7d6a3f"},{"offset":0.875,"color":"#e3d4a6"},{"offset":1,"color":"#e3d4a6"}]}}},
  {"transform":[{"filter":"datum.g=='4'"}],"mark":{"type":"bar","width":13,"stroke":"#2b2b2b","strokeWidth":0.8,"fill":{"gradient":"linear","x1":0,"y1":0,"x2":1,"y2":0,"stops":[{"offset":0,"color":"#3d1240"},{"offset":0.125,"color":"#3d1240"},{"offset":0.125,"color":"#a04ca0"},{"offset":0.25,"color":"#a04ca0"},{"offset":0.25,"color":"#3d1240"},{"offset":0.375,"color":"#3d1240"},{"offset":0.375,"color":"#a04ca0"},{"offset":0.5,"color":"#a04ca0"},{"offset":0.5,"color":"#3d1240"},{"offset":0.625,"color":"#3d1240"},{"offset":0.625,"color":"#a04ca0"},{"offset":0.75,"color":"#a04ca0"},{"offset":0.75,"color":"#3d1240"},{"offset":0.875,"color":"#3d1240"},{"offset":0.875,"color":"#a04ca0"},{"offset":1,"color":"#a04ca0"}]}}},
  {"transform":[{"filter":"datum.g=='2' || datum.g=='4' || datum.g=='5'"}],"mark":{"type":"rule","strokeWidth":11.5,"strokeDash":[1.5,1.5],"strokeCap":"butt"},"encoding":{"y2":{"datum":0},"stroke":{"field":"g","type":"nominal","scale":{"domain":["2","4","5"],"range":["#e3d4a6","#a04ca0","#3d1240"]},"legend":null}}},
  {"mark":{"type":"rule","color":"#111","strokeWidth":1},"encoding":{"y2":{"field":"e"}}},
  {"mark":{"type":"tick","color":"#111","thickness":1,"size":8},"encoding":{"y":{"field":"e","type":"quantitative"}}},
  {"transform":[{"flatten":["p"],"as":["v"]},{"window":[{"op":"row_number","as":"k"}],"groupby":["g"]}],"mark":{"type":"point","filled":true,"size":16,"color":"#111","opacity":1},"encoding":{"shape":{"field":"g","type":"nominal","scale":{"domain":["1","2","3","4","5"],"range":["circle","square","triangle-up","triangle-down","diamond"]},"legend":null},"xOffset":{"field":"k","type":"nominal","scale":{"range":[9,23]}}}},
  {"data":{"values":[{"g":"1","v":2,"e":5},{"g":"2","v":2,"e":5},{"g":"3","v":2,"e":5},{"g":"4","v":2,"e":5},{"g":"5","v":2,"e":5}]},"mark":{"type":"rect","fill":"white","stroke":"white","strokeWidth":0.5},"encoding":{"y2":{"field":"e"}}},
  {"data":{"values":[{"v":0,"e":2},{"v":5,"e":250}]},"mark":{"type":"rule","color":"#222","strokeWidth":1},"encoding":{"x":{"datum":"1","type":"nominal","bandPosition":0},"y2":{"field":"e"}}},
  {"data":{"values":[{"a":"1","b":"2","v":185,"t":"ΔΔΔΔ","s":1},{"a":"2","b":"4","v":230,"t":"Δ","s":2},{"a":"3","b":"4","v":175,"t":"ΔΔΔΔ","s":1},{"a":"4","b":"5","v":185,"t":"ΔΔΔ","s":1}]},
   "layer":[
    {"mark":{"type":"rule","color":"#444","strokeWidth":1},"encoding":{"x":{"field":"a","type":"nominal"},"x2":{"field":"b"}}},
    {"transform":[{"filter":"datum.s==1"}],"mark":{"type":"text","fontSize":7,"dy":-3,"baseline":"alphabetic","color":"#333","font":"DejaVu Sans"},"encoding":{"x":{"field":"a","type":"nominal","bandPosition":1},"text":{"field":"t"}}},
    {"transform":[{"filter":"datum.s==2"}],"mark":{"type":"text","fontSize":7,"dy":-3,"baseline":"alphabetic","color":"#333","font":"DejaVu Sans"},"encoding":{"x":{"field":"a","type":"nominal","bandPosition":1.5},"text":{"field":"t"}}}]}
 ]}
]}
]
}
